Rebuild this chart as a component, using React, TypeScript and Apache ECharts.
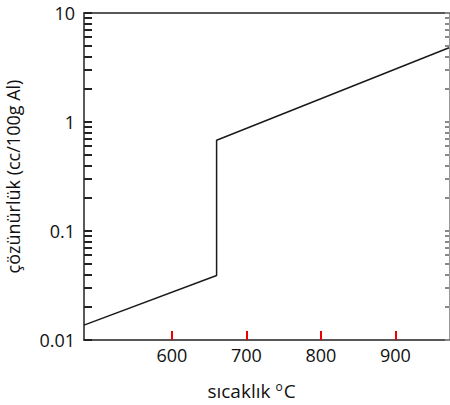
import React, { useEffect, useRef } from "react";
import * as echarts from "echarts";

const temperatures = [482, 660, 660, 972];
const solubility = [0.0137, 0.039, 0.68, 4.8];
const xTicks = [600, 700, 800, 900];
const yTicks = [0.01, 0.1, 1, 10];
const yMinor = [2, 3, 4, 5, 6, 7, 8, 9];

const X_MIN = 482;
const X_MAX = 972;
const Y_MIN = 0.01;
const Y_MAX = 10;

const FONT = "'Open Sans', sans-serif";

export default function App() {
  const ref = useRef<HTMLDivElement>(null);
  useEffect(() => {
    const chart = echarts.init(ref.current!, null, { renderer: "svg" });
    const data = temperatures.map((t, i) => [t, solubility[i]]);
    const minorValues: number[] = [];
    yTicks.slice(0, 3).forEach((d) => yMinor.forEach((m) => minorValues.push(d * m)));
    const allY = [...yTicks, ...minorValues];

    const hiddenBase = {
      axisLabel: { show: false },
      splitLine: { show: false },
      splitArea: { show: false },
    };

    chart.setOption({
      animation: false,
      grid: {
        left: 84, right: 1, top: 13, bottom: 65,
        outerBoundsMode: "none", containLabel: false,
      },
      xAxis: [
        {
          type: "value",
          min: X_MIN,
          max: X_MAX,
          axisLine: { show: true, lineStyle: { color: "#222", width: 1.5 } },
          axisTick: { show: true, inside: true, length: 9, customValues: xTicks, lineStyle: { color: "#e00", width: 2 } },
          axisLabel: {
            color: "#111",
            fontFamily: FONT,
            fontSize: 18,
            margin: 6,
            customValues: xTicks,
          },
          splitLine: { show: false },
          name: "{a|sıcaklık }{sup|o}{a|C}",
          nameLocation: "middle",
          nameGap: 40,
          nameTextStyle: {
            padding: [0, 30, 0, 0],
            rich: {
              a: { fontFamily: FONT, fontSize: 19, color: "#111" },
              sup: { fontFamily: FONT, fontSize: 12, color: "#111", verticalAlign: "top", padding: [0, 1, 10, 0] },
            },
          },
        },
        {
          type: "value",
          position: "top",
          min: X_MIN,
          max: X_MAX,
          axisLine: { show: true, lineStyle: { color: "#222", width: 1.5 } },
          axisTick: { show: false },
          ...hiddenBase,
        },
      ],
      yAxis: [
        {
          type: "log",
          logBase: 10,
          min: Y_MIN,
          max: Y_MAX,
          axisLine: { show: true, lineStyle: { color: "#222", width: 1.5 } },
          axisTick: { show: true, inside: true, length: 8, customValues: allY, lineStyle: { color: "#222", width: 2 } },
          axisLabel: {
            color: "#111",
            fontFamily: FONT,
            fontSize: 18,
            margin: 9,
            customValues: yTicks,
            formatter: (v: number) => {
              const m = yTicks.find((t) => Math.abs(t - v) / t < 1e-6);
              return m !== undefined ? String(m) : "";
            },
          },
          splitLine: { show: false },
          name: "çözünürlük (cc/100g Al)",
          nameLocation: "middle",
          nameGap: 62,
          nameRotate: 90,
          nameTextStyle: { fontFamily: FONT, fontSize: 18, color: "#111" },
        },
        {
          type: "log",
          logBase: 10,
          min: Y_MIN,
          max: Y_MAX,
          position: "right",
          axisLine: { show: true, lineStyle: { color: "#999", width: 1 } },
          axisTick: { show: true, inside: true, length: 4, customValues: allY, lineStyle: { color: "#888", width: 2 } },
          ...hiddenBase,
        },
      ],
      series: [
        {
          type: "line",
          data,
          symbol: "none",
          lineStyle: { color: "#1a1a1a", width: 1.5 },
        },
      ],
    });
    return () => chart.dispose();
  }, []);
  return <div ref={ref} style={{ width: 450, height: 405, position: "absolute", left: 0, top: 0, background: "#fff" }} />;
}
